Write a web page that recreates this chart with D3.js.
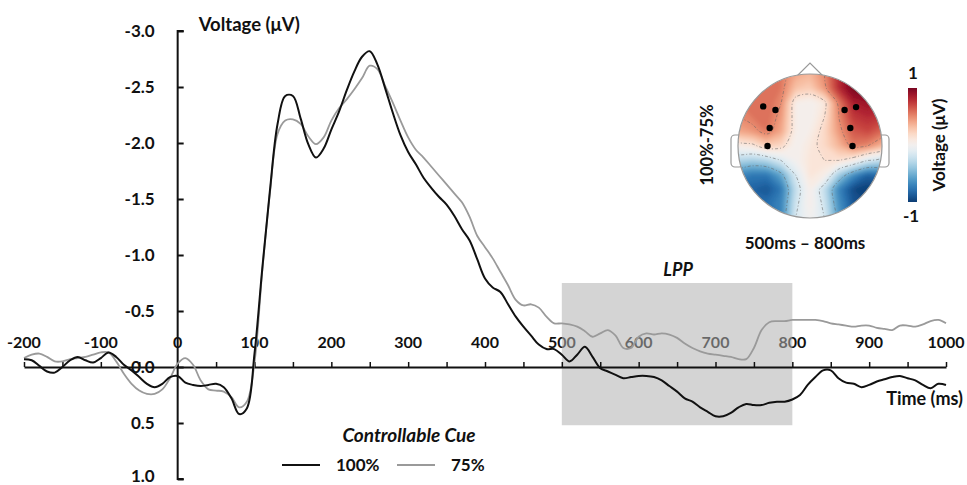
<!DOCTYPE html>
<html>
<head>
<meta charset="utf-8">
<script src="https://cdn.jsdelivr.net/npm/d3@7"></script>
<style>
  body { margin: 0; background: #fff; }
  svg text { font-family: Lato, "Open Sans", sans-serif; font-weight: bold; fill: #111; }
</style>
</head>
<body>
<svg id="chart" width="967" height="485"></svg>
<script>
// sample times (ms)
const times = [
  -200, -190, -180, -170, -160, -150, -140, -130, -120, -110, -100, -90, -80, -70, -60, -50, -40, -30, -20, -10,
  0, 10, 20, 30, 40, 50, 60, 70, 80, 90, 100, 110, 120, 130, 140, 150, 160, 170, 180, 190,
  200, 210, 220, 230, 240, 250, 260, 270, 280, 290, 300, 310, 320, 330, 340, 350, 360, 370, 380, 390,
  400, 410, 420, 430, 440, 450, 460, 470, 480, 490, 500, 510, 520, 530, 540, 550, 560, 570, 580, 590,
  600, 610, 620, 630, 640, 650, 660, 670, 680, 690, 700, 710, 720, 730, 740, 750, 760, 770, 780, 790,
  800, 810, 820, 830, 840, 850, 860, 870, 880, 890, 900, 910, 920, 930, 940, 950, 960, 970, 980, 990, 1000
];

// Controllable cue 100% (uV)
const cue100 = [
  -0.07, -0.06, -0.01, 0.04, 0.05, 0.00, -0.06, -0.09, -0.06, -0.04, -0.08, -0.13, -0.09, -0.02, 0.03, 0.09, 0.15, 0.18, 0.15, 0.09,
  0.08, 0.14, 0.16, 0.17, 0.16, 0.15, 0.18, 0.28, 0.42, 0.37, -0.12, -0.87, -1.57, -2.17, -2.42, -2.42, -2.22, -1.99, -1.87, -1.95,
  -2.12, -2.28, -2.47, -2.64, -2.77, -2.82, -2.70, -2.49, -2.27, -2.07, -1.92, -1.81, -1.69, -1.60, -1.52, -1.45, -1.35, -1.23, -1.13, -0.96,
  -0.79, -0.71, -0.67, -0.56, -0.45, -0.36, -0.28, -0.20, -0.16, -0.16, -0.11, -0.05, -0.11, -0.18, -0.09, 0.01, 0.04, 0.07, 0.10, 0.09,
  0.08, 0.08, 0.09, 0.12, 0.17, 0.22, 0.28, 0.31, 0.36, 0.40, 0.44, 0.44, 0.41, 0.36, 0.33, 0.34, 0.34, 0.32, 0.31, 0.31,
  0.29, 0.25, 0.16, 0.09, 0.03, 0.03, 0.10, 0.14, 0.15, 0.18, 0.16, 0.13, 0.11, 0.09, 0.08, 0.10, 0.12, 0.16, 0.19, 0.15, 0.16
];

// Controllable cue 75% (uV)
const cue75 = [
  -0.08, -0.11, -0.12, -0.09, -0.05, -0.05, -0.07, -0.08, -0.09, -0.11, -0.13, -0.13, -0.05, 0.06, 0.15, 0.21, 0.24, 0.24, 0.20, 0.10,
  -0.03, -0.08, -0.02, 0.12, 0.20, 0.21, 0.22, 0.27, 0.36, 0.31, -0.04, -0.85, -1.55, -2.08, -2.20, -2.21, -2.17, -2.06, -1.99, -2.05,
  -2.20, -2.31, -2.39, -2.48, -2.58, -2.69, -2.66, -2.51, -2.36, -2.20, -2.05, -1.94, -1.87, -1.79, -1.71, -1.63, -1.55, -1.47, -1.34, -1.17,
  -1.07, -0.97, -0.85, -0.73, -0.60, -0.55, -0.56, -0.53, -0.45, -0.39, -0.39, -0.38, -0.36, -0.32, -0.27, -0.30, -0.33, -0.28, -0.17, -0.17,
  -0.27, -0.30, -0.29, -0.30, -0.29, -0.26, -0.21, -0.17, -0.14, -0.12, -0.11, -0.10, -0.09, -0.07, -0.07, -0.17, -0.33, -0.40, -0.41, -0.41,
  -0.42, -0.42, -0.42, -0.42, -0.41, -0.39, -0.38, -0.37, -0.36, -0.37, -0.37, -0.35, -0.34, -0.33, -0.37, -0.37, -0.36, -0.38, -0.41, -0.42, -0.39
];

const xTickValues = [-200, -100, 0, 100, 200, 300, 400, 500, 600, 700, 800, 900, 1000];
const xMinorTicks = [-200, -150, -100, -50, 0, 50, 100, 150, 200, 250, 300, 350, 400, 450, 500, 550, 600, 650, 700, 750, 800, 850, 900, 950, 1000];
const yTickValues = [-3.0, -2.5, -2.0, -1.5, -1.0, -0.5, 0.0, 0.5, 1.0];
const yTickLabels = ["-3.0", "-2.5", "-2.0", "-1.5", "-1.0", "-0.5", "0.0", "0.5", "1.0"];

// LPP window: [start ms, end ms], [top uV, bottom uV]
const lppWindow = [500, 800];
const lppRange = [-0.75, 0.52];

// scalp map 100%-75%, 500-800ms: 11x11 grid, rows front -> back, cols left -> right
const topoGrid = [
  0.55, 0.55, 0.60, 0.55, 0.40, 0.35, 0.50, 0.80, 1.00, 1.00, 0.95,
  0.55, 0.55, 0.60, 0.55, 0.30, 0.25, 0.45, 0.80, 1.00, 1.00, 0.95,
  0.55, 0.55, 0.60, 0.50, 0.05, 0.00, 0.10, 0.55, 0.85, 0.90, 0.85,
  0.50, 0.55, 0.60, 0.45, 0.05, 0.00, 0.15, 0.50, 0.75, 0.80, 0.75,
  0.40, 0.45, 0.55, 0.40, 0.05, 0.05, 0.20, 0.45, 0.65, 0.70, 0.60,
  0.05, 0.10, 0.25, 0.20, 0.00, 0.10, 0.20, 0.35, 0.55, 0.50, 0.35,
  -0.30, -0.35, -0.30, -0.15, 0.00, 0.12, 0.15, 0.15, 0.05, -0.15, -0.25,
  -0.70, -0.75, -0.75, -0.55, -0.15, 0.12, 0.05, -0.35, -0.65, -0.85, -0.80,
  -0.80, -0.85, -0.90, -0.75, -0.25, 0.05, -0.25, -0.70, -0.95, -1.00, -0.95,
  -0.80, -0.80, -0.80, -0.70, -0.20, 0.05, -0.20, -0.65, -0.90, -0.95, -0.95,
  -0.80, -0.80, -0.80, -0.70, -0.15, 0.00, -0.15, -0.60, -0.85, -0.90, -0.90
];
const gridSize = 11;
// electrode sites, head-relative (-1..1)
const electrodes = [
  [-0.65, -0.55], [-0.48, -0.50], [-0.56, -0.25], [-0.59, 0.00],
  [0.48, -0.50], [0.64, -0.54], [0.56, -0.25], [0.59, 0.00]
];
const contourLevels = [-0.5, -0.15, 0.15, 0.5];

const svg = d3.select("#chart");
const defs = svg.append("defs");

const x = d3.scaleLinear().domain([-200, 1000]).range([24, 946]);
const y = d3.scaleLinear().domain([-3, 1]).range([31, 479]);

// x tick labels (drawn first so the LPP shading dims them)
svg.append("g").selectAll("text")
  .data(xTickValues).enter().append("text")
    .attr("x", d => x(d))
    .attr("y", y(0) - 25)
    .attr("dy", "0.35em")
    .attr("text-anchor", "middle")
    .style("font-size", "16px")
    .text(d => d);

// LPP window
svg.append("rect")
  .attr("x", x(lppWindow[0]))
  .attr("y", y(lppRange[0]))
  .attr("width", x(lppWindow[1]) - x(lppWindow[0]))
  .attr("height", y(lppRange[1]) - y(lppRange[0]))
  .attr("fill", "#b0b0b0")
  .attr("fill-opacity", 0.55);

svg.append("text")
  .attr("x", x(650) + 1)
  .attr("y", y(lppRange[0]) - 13)
  .attr("dy", "0.35em")
  .attr("text-anchor", "middle")
  .style("font-size", "18px")
  .style("font-style", "italic")
  .text("LPP");

// y axis
const yAxis = svg.append("g").attr("transform", `translate(${x(0)},0)`)
  .call(d3.axisRight(y).tickValues(yTickValues).tickSize(6).tickFormat(""));
yAxis.select(".domain").attr("stroke", "#111").attr("stroke-width", 2).attr("d", `M6,${y(-3)}H0V${y(1)}H6`);
yAxis.selectAll(".tick line").attr("stroke", "#111").attr("stroke-width", 2);

// last label sits on the bottom edge, nudge it up so it stays visible
svg.append("g").selectAll("text")
  .data(yTickValues).enter().append("text")
    .attr("x", x(0) - 23)
    .attr("y", d => Math.min(y(d), 476))
    .attr("dy", "0.35em")
    .attr("text-anchor", "end")
    .style("font-size", "17px")
    .text((d, i) => yTickLabels[i]);

// x axis at 0 uV, ticks pointing up
const xAxis = svg.append("g").attr("transform", `translate(0,${y(0)})`)
  .call(d3.axisTop(x).tickValues(xMinorTicks).tickSize(5).tickSizeOuter(0).tickFormat(""));
xAxis.select(".domain").attr("stroke", "#111").attr("stroke-width", 2);
xAxis.selectAll(".tick line").attr("stroke", "#111").attr("stroke-width", 1.5);

svg.append("text")
  .attr("x", x(0) + 21)
  .attr("y", 25)
  .attr("dy", "0.35em")
  .style("font-size", "18.5px")
  .text("Voltage (\u03BCV)");

svg.append("text")
  .attr("x", 963)
  .attr("y", 399)
  .attr("dy", "0.35em")
  .attr("text-anchor", "end")
  .style("font-size", "18px")
  .text("Time (ms)");

// waveforms
const line = values => d3.line()
  .x((d, i) => x(times[i]))
  .y(d => y(d))
  .curve(d3.curveCatmullRom.alpha(0.5))(values);

svg.append("path").attr("d", line(cue75))
  .attr("fill", "none").attr("stroke", "#9a9a9a").attr("stroke-width", 1.8);
svg.append("path").attr("d", line(cue100))
  .attr("fill", "none").attr("stroke", "#111").attr("stroke-width", 2);

// legend
svg.append("text")
  .attr("x", 409)
  .attr("y", 435)
  .attr("dy", "0.35em")
  .attr("text-anchor", "middle")
  .style("font-size", "19px")
  .style("font-style", "italic")
  .text("Controllable Cue");

const legendItems = [
  { label: "100%", color: "#111", width: 2, x0: 282 },
  { label: "75%", color: "#9a9a9a", width: 1.8, x0: 397 }
];
const legend = svg.append("g").selectAll("g").data(legendItems).enter().append("g")
  .attr("transform", d => `translate(${d.x0},465)`);
legend.append("line").attr("x1", 0).attr("x2", 38)
  .attr("stroke", d => d.color).attr("stroke-width", d => d.width);
legend.append("text").attr("x", 54).attr("dy", "0.35em")
  .style("font-size", "17px").text(d => d.label);

// ---- scalp map ----
const cx = 810, cy = 146, r = 72;
const color = d3.scaleSequential(d3.interpolateRdBu).domain([1.05, -1.05]);
const k = 2 * r / (gridSize - 1);
const proj = d3.geoIdentity().scale(k).translate([cx - r - 0.5 * k, cy - r - 0.5 * k]);
const geo = d3.geoPath(proj);

defs.append("clipPath").attr("id", "head")
  .append("circle").attr("cx", cx).attr("cy", cy).attr("r", r);
defs.append("filter").attr("id", "soft")
  .attr("x", "-20%").attr("y", "-20%").attr("width", "140%").attr("height", "140%")
  .append("feGaussianBlur").attr("stdDeviation", 2.2);

const topo = svg.append("g");

// ears and nose
[-1, 1].forEach(s => {
  topo.append("rect")
    .attr("x", s < 0 ? cx - r - 7 : cx + r - 5)
    .attr("y", cy - 11).attr("width", 12).attr("height", 32).attr("rx", 4)
    .attr("fill", "#fff").attr("stroke", "#999").attr("stroke-width", 1.2);
});
topo.append("path")
  .attr("d", `M${cx - 13},${cy - r + 2}L${cx},${cy - r - 11}L${cx + 13},${cy - r + 2}`)
  .attr("fill", "#fff").attr("stroke", "#999").attr("stroke-width", 1.2);

const thresholds = d3.range(-1.1, 1.11, 0.05);
const bands = d3.contours().size([gridSize, gridSize]).thresholds(thresholds)(topoGrid);

const headG = topo.append("g").attr("clip-path", "url(#head)");
headG.append("circle").attr("cx", cx).attr("cy", cy).attr("r", r).attr("fill", color(0));
headG.append("g").attr("filter", "url(#soft)")
  .selectAll("path").data(bands).enter().append("path")
    .attr("d", geo)
    .attr("fill", d => color(d.value + 0.025));

// dashed iso-lines
const iso = d3.contours().size([gridSize, gridSize]).thresholds(contourLevels)(topoGrid);
const ringLine = d3.line().curve(d3.curveCatmullRomClosed);
iso.forEach(c => {
  c.coordinates.forEach(poly => poly.forEach(ring => {
    headG.append("path")
      .attr("d", ringLine(ring.slice(0, -1).map(p => proj(p))))
      .attr("fill", "none")
      .attr("stroke", "#666")
      .attr("stroke-width", 0.8)
      .attr("stroke-opacity", 0.7)
      .attr("stroke-dasharray", "3,2,1,2");
  }));
});

topo.append("circle").attr("cx", cx).attr("cy", cy).attr("r", r)
  .attr("fill", "none").attr("stroke", "#999").attr("stroke-width", 1.2);

topo.selectAll(".elec").data(electrodes).enter().append("circle")
  .attr("cx", d => cx + d[0] * r)
  .attr("cy", d => cy + d[1] * r)
  .attr("r", 3.2)
  .attr("fill", "#000");

// colour bar
const cbScale = d3.scaleLinear().domain([1, -1]).range([88, 202]);
const grad = defs.append("linearGradient").attr("id", "cbar")
  .attr("x1", 0).attr("y1", 0).attr("x2", 0).attr("y2", 1);
grad.selectAll("stop").data(d3.range(0, 1.001, 0.05)).enter().append("stop")
  .attr("offset", d => d)
  .attr("stop-color", d => color(cbScale.invert(88 + d * 114)));
topo.append("rect").attr("x", 908).attr("y", cbScale(1)).attr("width", 9)
  .attr("height", cbScale(-1) - cbScale(1)).attr("fill", "url(#cbar)");
topo.append("text").attr("x", 913).attr("y", cbScale(1) - 15).attr("dy", "0.35em")
  .attr("text-anchor", "middle").style("font-size", "17px").text("1");
topo.append("text").attr("x", 911).attr("y", cbScale(-1) + 14).attr("dy", "0.35em")
  .attr("text-anchor", "middle").style("font-size", "17px").text("-1");
topo.append("text")
  .attr("transform", `translate(939,145) rotate(-90)`)
  .attr("dy", "0.35em").attr("text-anchor", "middle")
  .style("font-size", "17px").text("Voltage (\u03BCV)");
topo.append("text")
  .attr("transform", `translate(707,145) rotate(-90)`)
  .attr("dy", "0.35em").attr("text-anchor", "middle")
  .style("font-size", "16.5px").text("100%-75%");
topo.append("text")
  .attr("x", 805).attr("y", 243).attr("dy", "0.35em")
  .attr("text-anchor", "middle").style("font-size", "17px").text("500ms \u2013 800ms");
</script>
</body>
</html>
